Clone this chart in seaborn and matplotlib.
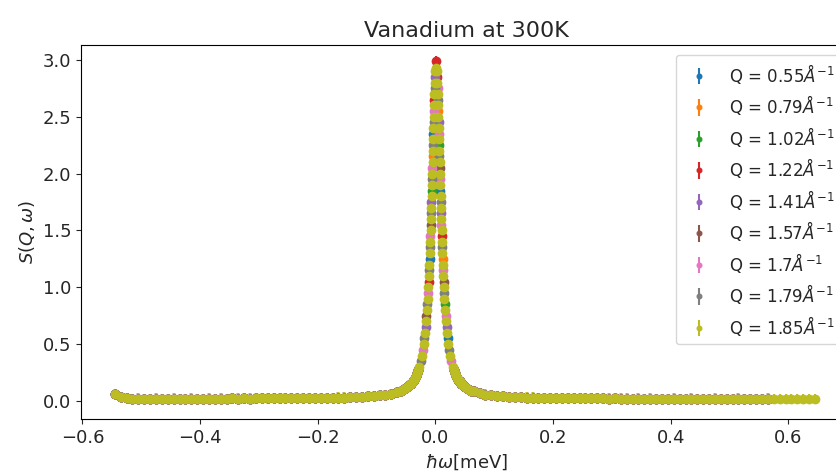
import numpy as np
import pandas as pd
import matplotlib
matplotlib.use("Agg")
import matplotlib.pyplot as plt
import seaborn as sns

# ---------------- data ----------------
q_values = ["0.55", "0.79", "1.02", "1.22", "1.41", "1.57", "1.7", "1.79", "1.85"]

# energy range covered by each Q group (meV)
last_energy_meV = [0.565, 0.565, 0.565, 0.565, 0.565, 0.565, 0.565, 0.565, 0.645]

# quasi-flat wings, common to all Q groups
energy_left_tail = [
    -0.545, -0.535, -0.525, -0.515, -0.505, -0.495, -0.485, -0.475, -0.465, -0.455,
    -0.445, -0.435, -0.425, -0.415, -0.405, -0.395, -0.385, -0.375, -0.365, -0.355,
    -0.345, -0.335, -0.325, -0.315, -0.305, -0.295, -0.285, -0.275, -0.265, -0.255,
    -0.245, -0.235, -0.225, -0.215, -0.205, -0.195, -0.185, -0.175, -0.165, -0.155,
    -0.145, -0.135, -0.125, -0.115, -0.105, -0.095, -0.085, -0.075, -0.065,
    -0.059, -0.054, -0.049, -0.045, -0.042, -0.039, -0.037, -0.035, -0.033, -0.031, -0.029,
]
s_left_tail = [
    0.060, 0.036, 0.024, 0.021, 0.022, 0.020, 0.021, 0.022, 0.020, 0.021,
    0.022, 0.020, 0.021, 0.022, 0.021, 0.020, 0.022, 0.021, 0.022, 0.021,
    0.023, 0.022, 0.023, 0.022, 0.023, 0.024, 0.023, 0.024, 0.023, 0.024,
    0.025, 0.024, 0.025, 0.026, 0.026, 0.027, 0.028, 0.029, 0.030, 0.031,
    0.032, 0.034, 0.037, 0.040, 0.044, 0.049, 0.056, 0.065, 0.080,
    0.090, 0.103, 0.120, 0.137, 0.152, 0.172, 0.185, 0.202, 0.222, 0.245, 0.270,
]
energy_right_tail = [
    0.031, 0.033, 0.035, 0.037, 0.039, 0.041, 0.044, 0.047, 0.051, 0.056, 0.061,
    0.065, 0.075, 0.085, 0.095, 0.105, 0.115, 0.125, 0.135, 0.145, 0.155,
    0.165, 0.175, 0.185, 0.195, 0.205, 0.215, 0.225, 0.235, 0.245, 0.255,
    0.265, 0.275, 0.285, 0.295, 0.305, 0.315, 0.325, 0.335, 0.345, 0.355,
    0.365, 0.375, 0.385, 0.395, 0.405, 0.415, 0.425, 0.435, 0.445, 0.455,
    0.465, 0.475, 0.485, 0.495, 0.505, 0.515, 0.525, 0.535, 0.545, 0.555,
    0.565, 0.575, 0.585, 0.595, 0.605, 0.615, 0.625, 0.635, 0.645,
]
s_right_tail = [
    0.270, 0.245, 0.222, 0.202, 0.185, 0.172, 0.152, 0.137, 0.120, 0.103, 0.090,
    0.084, 0.068, 0.057, 0.050, 0.044, 0.040, 0.037, 0.035, 0.033, 0.031,
    0.030, 0.029, 0.028, 0.027, 0.026, 0.026, 0.025, 0.025, 0.024, 0.024,
    0.023, 0.024, 0.023, 0.022, 0.023, 0.022, 0.022, 0.021, 0.022, 0.021,
    0.022, 0.021, 0.020, 0.021, 0.022, 0.020, 0.021, 0.022, 0.020, 0.021,
    0.020, 0.022, 0.021, 0.020, 0.021, 0.022, 0.020, 0.021, 0.020, 0.021,
    0.022, 0.019, 0.018, 0.019, 0.018, 0.019, 0.018, 0.019, 0.018,
]

# elastic line core, one set of points per Q group
energy_core_q055 = [-0.0101, -0.0038, 0.0083, 0.0208]
s_core_q055 = [1.25, 2.35, 1.85, 0.55]
energy_core_q079 = [-0.0048, 0.0048, 0.0121]
s_core_q079 = [2.15, 2.55, 1.25]
energy_core_q102 = [-0.0063, 0.0063, 0.0159]
s_core_q102 = [1.85, 2.25, 0.85]
energy_core_q122 = [-0.0118, -0.0022, 0.0010, 0.0028, 0.0107]
s_core_q122 = [1.05, 2.65, 2.99, 2.85, 1.45]
energy_core_q141 = [-0.0169, -0.0069, -0.0008, 0.0053, 0.0094, 0.0189]
s_core_q141 = [0.65, 1.75, 2.85, 2.45, 1.65, 0.65]
energy_core_q157 = [-0.0153, -0.0080, 0.0073, 0.0138]
s_core_q157 = [0.75, 1.55, 2.05, 1.05]
energy_core_q170 = [-0.0214, -0.0128, -0.0087, -0.0053, -0.0028,
                    0.0036, 0.0058, 0.0078, 0.0100, 0.0129, 0.0173, 0.0269]
s_core_q170 = [0.45, 0.95, 1.45, 2.05, 2.55,
               2.75, 2.35, 1.95, 1.55, 1.15, 0.75, 0.35]
energy_core_q179 = [-0.0249, -0.0188, -0.0139, -0.0109, -0.0093, -0.0074, -0.0058, -0.0043,
                    -0.0033, -0.0016, 0.0042, 0.0068, 0.0089, 0.0113, 0.0148, 0.0234]
s_core_q179 = [0.35, 0.55, 0.85, 1.15, 1.35, 1.65, 1.95, 2.25,
               2.45, 2.75, 2.65, 2.15, 1.75, 1.35, 0.95, 0.45]
energy_core_q185 = [
    -0.0272, -0.0230, -0.0200, -0.0178, -0.0160, -0.0146, -0.0133, -0.0123, -0.0113,
    -0.0105, -0.0097, -0.0090, -0.0083, -0.0077, -0.0072, -0.0066, -0.0061, -0.0056,
    -0.0050, -0.0046, -0.0041, -0.0036, -0.0030, -0.0025, -0.0019, -0.0012, -0.0003,
    0.0010,
    0.0023, 0.0032, 0.0039, 0.0045, 0.0050, 0.0056, 0.0061, 0.0066, 0.0070,
    0.0076, 0.0081, 0.0086, 0.0092, 0.0097, 0.0103, 0.0110, 0.0117, 0.0125,
    0.0133, 0.0143, 0.0153, 0.0166, 0.0180, 0.0198, 0.0220, 0.0250, 0.0292,
]
s_core_q185 = [
    0.3, 0.4, 0.5, 0.6, 0.7, 0.8, 0.9, 1.0, 1.1,
    1.2, 1.3, 1.4, 1.5, 1.6, 1.7, 1.8, 1.9, 2.0,
    2.1, 2.2, 2.3, 2.4, 2.5, 2.6, 2.7, 2.8, 2.9,
    2.93,
    2.9, 2.8, 2.7, 2.6, 2.5, 2.4, 2.3, 2.2, 2.1,
    2.0, 1.9, 1.8, 1.7, 1.6, 1.5, 1.4, 1.3, 1.2,
    1.1, 1.0, 0.9, 0.8, 0.7, 0.6, 0.5, 0.4, 0.3,
]

s_err_tail = 0.045
s_err_core = 0.045

core_energies = [energy_core_q055, energy_core_q079, energy_core_q102, energy_core_q122,
                 energy_core_q141, energy_core_q157, energy_core_q170, energy_core_q179,
                 energy_core_q185]
core_values = [s_core_q055, s_core_q079, s_core_q102, s_core_q122,
               s_core_q141, s_core_q157, s_core_q170, s_core_q179, s_core_q185]

# ---------------- assemble long table ----------------
frames = []
for i, q in enumerate(q_values):
    label = "Q = " + q + r"$\AA^{-1}$"
    left = pd.DataFrame({"energy": energy_left_tail, "S": s_left_tail, "err": s_err_tail})
    right = pd.DataFrame({"energy": energy_right_tail, "S": s_right_tail, "err": s_err_tail})
    right = right[right["energy"] <= last_energy_meV[i] + 1e-9]
    core = pd.DataFrame({"energy": core_energies[i], "S": core_values[i], "err": s_err_core})
    df = pd.concat([left, core, right], ignore_index=True)
    df["Q"] = label
    frames.append(df)
data = pd.concat(frames, ignore_index=True)

# ---------------- style ----------------
sns.set_theme(style="ticks", palette="tab10")
plt.rcParams.update({
    "font.family": ["DejaVu Sans"],
    "axes.linewidth": 0.8,
    "axes.edgecolor": "black",
    "xtick.major.size": 3.5,
    "ytick.major.size": 3.5,
    "xtick.major.width": 0.8,
    "ytick.major.width": 0.8,
    "xtick.color": "#262626",
    "ytick.color": "#262626",
    "mathtext.fontset": "dejavusans",
})
palette = sns.color_palette("tab10", len(q_values))

fig = plt.figure(figsize=(8.36, 4.72), dpi=100)
ax = fig.add_axes([81 / 836, 53 / 472, 771 / 836, 374 / 472])

for i, (label, grp) in enumerate(data.groupby("Q", sort=False)):
    ax.errorbar(grp["energy"], grp["S"], yerr=grp["err"], fmt="o",
                color=palette[i], markersize=6, elinewidth=1.5,
                capsize=0, label=label)

ax.set_xlim(-0.6025, 0.708)
ax.set_ylim(-0.158, 3.13)
ax.set_xticks([-0.6, -0.4, -0.2, 0.0, 0.2, 0.4, 0.6])
ax.set_yticks([0.0, 0.5, 1.0, 1.5, 2.0, 2.5, 3.0])
ax.tick_params(labelsize=13)
ax.set_xlabel(r"$\hbar\omega$[meV]", fontsize=13)
ax.set_ylabel(r"$S(Q,\omega)$", fontsize=13)
ax.set_title("Vanadium at 300K", fontsize=16)
ax.legend(loc="upper right", fontsize=12, markerscale=0.55, frameon=True,
          labelspacing=0.45, borderaxespad=0.6)

fig.savefig("out.png", dpi=100)
